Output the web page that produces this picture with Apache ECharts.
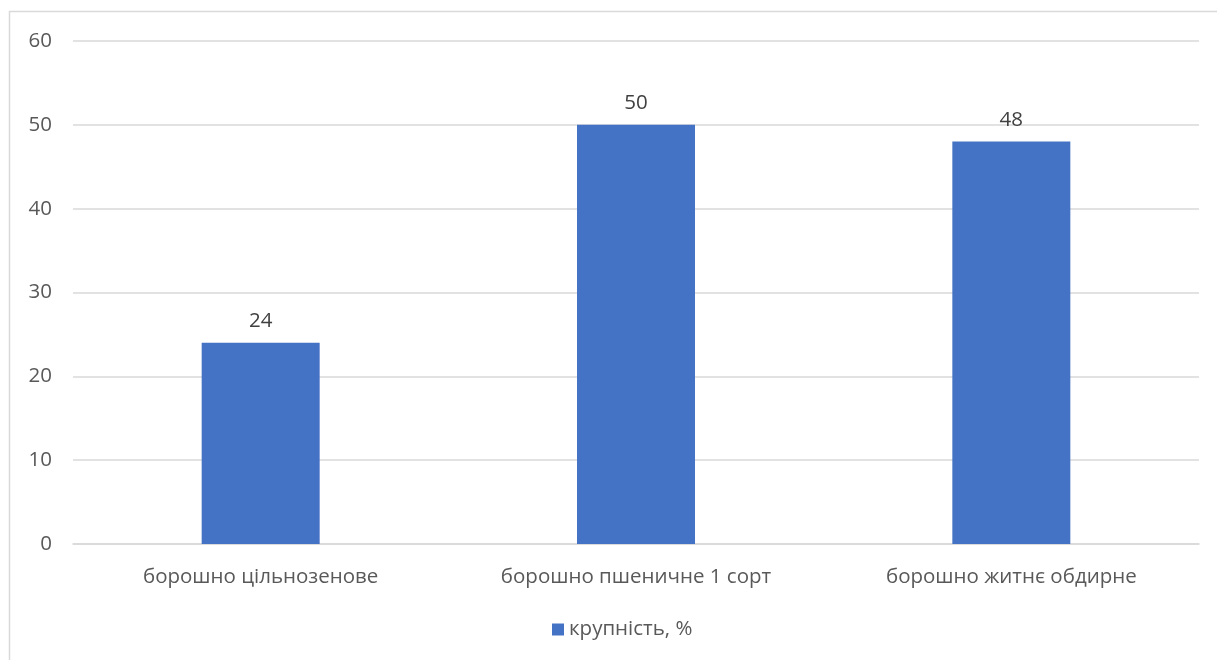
<!DOCTYPE html>
<html>
<head>
<meta charset="utf-8">
<script src="https://cdn.jsdelivr.net/npm/echarts@6/dist/echarts.min.js"></script>
<style>
  html, body { margin: 0; padding: 0; background: #fff; }
  #chart { width: 1217px; height: 660px; }
</style>
</head>
<body>
<div id="chart"></div>
<script>
// Flour types and coarseness share
const categories = ['борошно цільнозенове', 'борошно пшеничне 1 сорт', 'борошно житнє обдирне'];
const coarseness = [24, 50, 48];
const seriesName = 'крупність, %';
const yTicks = { min: 0, max: 60, interval: 10 };

const chart = echarts.init(document.getElementById('chart'), null, { renderer: 'canvas' });
const font = '"Open Sans", "Noto Sans", sans-serif';

chart.setOption({
  animation: false,
  textStyle: { fontFamily: font },
  graphic: [{
    type: 'rect',
    shape: { x: 9.5, y: 11.5, width: 1230, height: 680 },
    style: { fill: 'none', stroke: '#d9d9d9', lineWidth: 1.5 },
    silent: true,
    z: -1
  }],
  grid: { left: 73, right: 18, top: 41, bottom: 116, containLabel: false },
  legend: {
    data: [seriesName],
    bottom: 15,
    left: 547,
    itemWidth: 12,
    itemHeight: 12,
    itemGap: 6,
    icon: 'rect',
    textStyle: { fontFamily: font, fontSize: 20.5, color: '#595959' }
  },
  xAxis: {
    type: 'category',
    data: categories,
    axisLine: { show: true, lineStyle: { color: '#d9d9d9', width: 1.5 } },
    axisTick: { show: false },
    axisLabel: { fontFamily: font, fontSize: 20.5, color: '#595959', margin: 23 }
  },
  yAxis: {
    type: 'value',
    min: yTicks.min,
    max: yTicks.max,
    interval: yTicks.interval,
    axisLine: { show: false },
    axisTick: { show: false },
    splitLine: { lineStyle: { color: '#d9d9d9', width: 1.5 } },
    axisLabel: { fontFamily: font, fontSize: 20.5, color: '#595959', margin: 21 }
  },
  series: [{
    name: seriesName,
    type: 'bar',
    data: coarseness,
    barWidth: 118,
    itemStyle: { color: '#4472C4' },
    label: {
      show: true,
      position: 'top',
      distance: 11,
      fontFamily: font,
      fontSize: 20.5,
      color: '#404040'
    }
  }]
});
</script>
</body>
</html>
